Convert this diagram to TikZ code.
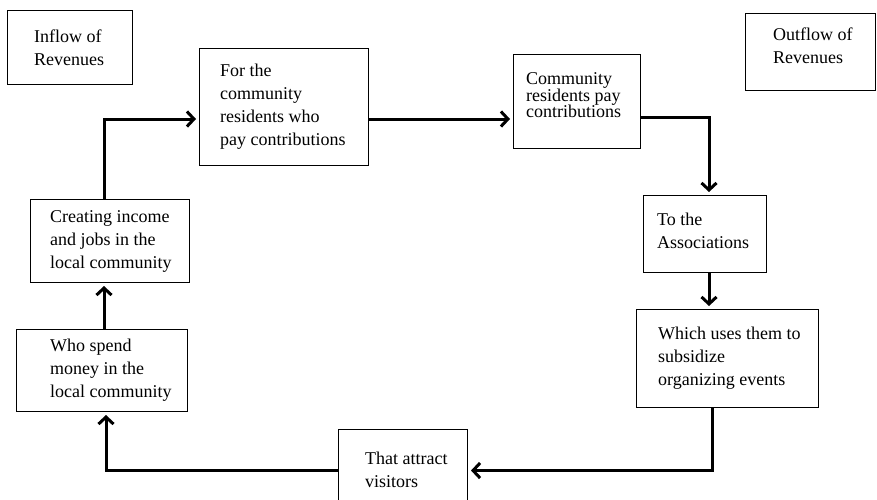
\documentclass[tikz,border=0pt]{standalone}
\usepackage{fontspec}
\setmainfont{Liberation Serif}
\usetikzlibrary{arrows.meta}

\tikzset{
    box/.style={draw, line width=1pt, rectangle, anchor=north west, inner sep=0pt},
    txt/.style={anchor=west, align=left, inner sep=0pt, font=\fontsize{18}{23}\selectfont},
    flow/.style={line width=3pt, -{Straight Barb[length=7pt,width=15pt]}, shorten >=3pt},
}

\begin{document}
\begin{tikzpicture}[x=1pt, y=-1pt]
    \useasboundingbox (0,0) rectangle (877,499);

    % labels in the corners
    \node[box, minimum width=125pt, minimum height=74pt] (inflow) at (7,10) {};
    \node[txt, xshift=27pt] (inflow-t) at (inflow.west) {Inflow of\\Revenues};

    \node[box, minimum width=130pt, minimum height=77pt] (outflow) at (745,13) {};
    \node[txt, xshift=28pt, yshift=6pt] (outflow-t) at (outflow.west) {Outflow of\\Revenues};

    % the cycle
    \node[box, minimum width=169pt, minimum height=117pt] (for) at (199,48) {};
    \node[txt, xshift=21pt] (for-t) at (for.west) {For the\\community\\residents who\\pay contributions};

    \node[box, minimum width=127pt, minimum height=94pt] (comm) at (513,54) {};
    \node[txt, xshift=13pt, yshift=6pt, font=\fontsize{18}{16.5}\selectfont] (comm-t) at (comm.west) {Community\\residents pay\\contributions};

    \node[box, minimum width=123pt, minimum height=77pt] (tothe) at (643,195) {};
    \node[txt, xshift=14pt, yshift=3pt] (tothe-t) at (tothe.west) {To the\\Associations};

    \node[box, minimum width=182pt, minimum height=98pt] (which) at (636,309) {};
    \node[txt, xshift=22pt] (which-t) at (which.west) {Which uses them to\\subsidize\\organizing events};

    \node[box, minimum width=129pt, minimum height=74pt] (that) at (338,429) {};
    \node[txt, xshift=27pt, yshift=-3pt] (that-t) at (that.west) {That attract\\visitors};

    \node[box, minimum width=171pt, minimum height=82pt] (who) at (16,329) {};
    \node[txt, xshift=34pt] (who-t) at (who.west) {Who spend\\money in the\\local community};

    \node[box, minimum width=159pt, minimum height=83pt] (creating) at (30,199) {};
    \node[txt, xshift=20pt] (creating-t) at (creating.west) {Creating income\\and jobs in the\\local community};

    % connectors
    \draw[flow] ([xshift=-6pt]creating.north) |- ([yshift=-12pt]for.west);
    \draw[flow] ([yshift=-12pt]for.east) -- ([yshift=-12pt]for.east -| comm.west);
    \draw[flow] ([yshift=-16pt]comm.east) -| ([xshift=4pt]tothe.north);
    \draw[flow] ([xshift=4pt]tothe.south) -- ([xshift=4pt]tothe.south |- which.north);
    \draw[flow] ([xshift=-15pt]which.south) |- ([yshift=-4pt]that.east);
    \draw[flow] ([yshift=-4pt]that.west) -| ([xshift=4pt]who.south);
    \draw[flow] ([xshift=2pt]who.north) -- ([xshift=2pt]who.north |- creating.south);
\end{tikzpicture}
\end{document}
